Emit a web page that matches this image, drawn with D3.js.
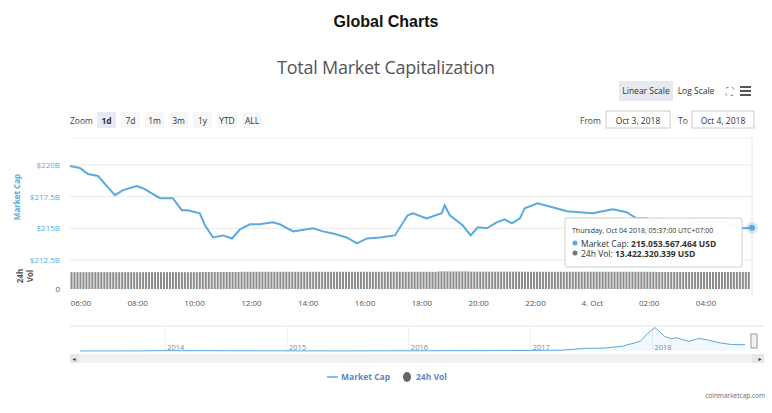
<!DOCTYPE html>
<html>
<head>
<meta charset="utf-8">
<script src="https://cdn.jsdelivr.net/npm/d3@7"></script>
<style>
  body { margin: 0; background: #fff; font-family: "Open Sans", "DejaVu Sans", sans-serif; }
  svg text { font-family: "Open Sans", "DejaVu Sans", sans-serif; }
</style>
</head>
<body>
<svg id="chart" width="772" height="413"></svg>
<script>
// Market cap readings: minutes after Oct 3 2018 05:37, value in billions USD
const capMinutes = [0,21,38,59,78,95,112,141,154,190,217,236,249,274,285,302,323,342,359,380,401,428,443,471,513,534,555,584,606,627,654,686,713,724,753,785,791,802,829,846,861,880,901,918,933,950,960,987,1019,1049,1076,1104,1146,1175,1196,1217,1239,1266,1323,1378,1420,1440];
const capValues = [219.92,219.76,219.29,219.13,218.33,217.62,218.02,218.33,218.17,217.38,217.38,216.43,216.43,216.19,215.24,214.28,214.44,214.2,214.92,215.32,215.32,215.47,215.32,214.76,215.0,214.76,214.6,214.28,213.81,214.2,214.28,214.44,216.03,216.19,215.79,216.19,216.82,216.03,215.24,214.44,215.08,215.0,215.47,215.71,215.39,215.79,216.59,216.98,216.67,216.35,216.27,216.19,216.51,216.27,215.79,215.79,215.47,215.24,215.47,215.55,215.0,215.05];

// 24h volume (billions) read as steps: from minute -> value
const volStepStart = [0,265,355,770,840,960,1230];
const volStepValue = [13.0,13.15,13.3,13.6,13.4,13.3,13.15];

// y ticks and x ticks
const capTicks = [212.5, 215, 217.5, 220];
const capTickLabels = ["$212.5B", "$215B", "$217.5B", "$220B"];
const timeTicks = ["06:00","08:00","10:00","12:00","14:00","16:00","18:00","20:00","22:00","4. Oct","02:00","04:00"];

// navigator: whole-history market cap (year, billions)
const navYears = [2013.3,2013.8,2014.0,2014.5,2015.0,2015.5,2016.0,2016.5,2017.0,2017.25,2017.45,2017.6,2017.75,2017.9,2017.96,2018.02,2018.1,2018.15,2018.2,2018.3,2018.38,2018.45,2018.55,2018.65,2018.76];
const navCaps = [1.5,4,12,8,5,4,7,10,18,28,90,100,160,330,600,800,500,420,450,330,430,380,280,220,215];
const navYearLabels = [2014,2015,2016,2017,2018];

const zoomButtons = ["1d","7d","1m","3m","1y","YTD","ALL"];

const svg = d3.select("#chart");
const blue = "#5aa9df";
const t0 = new Date(2018, 9, 3, 5, 37);
const toDate = m => new Date(t0.getTime() + m * 60000);

// headings
svg.append("text").attr("x", 386).attr("y", 27).attr("text-anchor", "middle")
  .attr("font-size", 16).attr("font-weight", "bold").attr("fill", "#111")
  .style("font-family", "'Liberation Sans', Arial, sans-serif").text("Global Charts");
svg.append("text").attr("x", 386).attr("y", 74).attr("text-anchor", "middle")
  .attr("font-size", 18).attr("fill", "#555").attr("textLength", 218)
  .text("Total Market Capitalization");

// scale buttons
svg.append("rect").attr("x", 619).attr("y", 81).attr("width", 54).attr("height", 20).attr("fill", "#e6e9ee");
svg.append("text").attr("x", 646).attr("y", 94).attr("text-anchor", "middle").attr("font-size", 8.5).attr("fill", "#333").text("Linear Scale");
svg.append("text").attr("x", 696).attr("y", 94).attr("text-anchor", "middle").attr("font-size", 8.5).attr("fill", "#333").text("Log Scale");
svg.append("text").attr("x", 729).attr("y", 95).attr("text-anchor", "middle").attr("font-size", 10).attr("fill", "#777").text("⛶");
[86, 90, 94].forEach(y => svg.append("rect").attr("x", 740).attr("y", y).attr("width", 11).attr("height", 2).attr("fill", "#555"));

// zoom row
svg.append("text").attr("x", 70).attr("y", 124).attr("font-size", 8.5).attr("fill", "#444").text("Zoom");
let bx = 97;
zoomButtons.forEach((b, i) => {
  const w = b.length > 2 ? 20 : 19;
  svg.append("rect").attr("x", bx).attr("y", 112).attr("width", w).attr("height", 16)
    .attr("fill", i === 0 ? "#e6ebf5" : "#f7f7f7");
  svg.append("text").attr("x", bx + w / 2).attr("y", 123.5).attr("text-anchor", "middle")
    .attr("font-size", 8.5).attr("font-weight", i === 0 ? "bold" : "normal").attr("fill", "#333").text(b);
  bx += w + 5;
});
svg.append("text").attr("x", 580).attr("y", 124).attr("font-size", 8.5).attr("fill", "#444").text("From");
svg.append("rect").attr("x", 606).attr("y", 111).attr("width", 64).attr("height", 17).attr("fill", "#fff").attr("stroke", "#ccc");
svg.append("text").attr("x", 638).attr("y", 123.5).attr("text-anchor", "middle").attr("font-size", 8.5).attr("fill", "#333").text("Oct 3, 2018");
svg.append("text").attr("x", 678).attr("y", 124).attr("font-size", 8.5).attr("fill", "#444").text("To");
svg.append("rect").attr("x", 692).attr("y", 111).attr("width", 62).attr("height", 17).attr("fill", "#fff").attr("stroke", "#ccc");
svg.append("text").attr("x", 723).attr("y", 123.5).attr("text-anchor", "middle").attr("font-size", 8.5).attr("fill", "#333").text("Oct 4, 2018");

// main scales
const x = d3.scaleTime().domain([toDate(0), toDate(1440)]).range([70, 752]);
const y = d3.scaleLinear().domain([212.5, 220]).range([260, 165]);
const yVol = d3.scaleLinear().domain([0, 17]).range([289, 267]);

svg.append("line").attr("x1", 70).attr("x2", 752).attr("y1", 138).attr("y2", 138).attr("stroke", "#eee");
svg.append("line").attr("x1", 752).attr("x2", 752).attr("y1", 138).attr("y2", 297).attr("stroke", "#e6e6e6");

// grid + y labels
capTicks.forEach((v, i) => {
  svg.append("line").attr("x1", 70).attr("x2", 752).attr("y1", y(v)).attr("y2", y(v)).attr("stroke", "#e9e9e9");
  svg.append("text").attr("x", 60).attr("y", y(v) + 3).attr("text-anchor", "end")
    .attr("font-size", 8).attr("fill", blue).text(capTickLabels[i]);
});
svg.append("text").attr("transform", "translate(20,197) rotate(-90)").attr("text-anchor", "middle")
  .attr("font-size", 8).attr("font-weight", "bold").attr("fill", blue).text("Market Cap");
svg.append("text").attr("transform", "translate(23,276) rotate(-90)").attr("text-anchor", "middle")
  .attr("font-size", 8).attr("font-weight", "bold").attr("fill", "#555").text("24h");
svg.append("text").attr("transform", "translate(33,276) rotate(-90)").attr("text-anchor", "middle")
  .attr("font-size", 8).attr("font-weight", "bold").attr("fill", "#555").text("Vol");
svg.append("text").attr("x", 60).attr("y", 292).attr("text-anchor", "end").attr("font-size", 8).attr("fill", "#555").text("0");

// volume bars every ~6 minutes, step values
const volBars = d3.range(0, 1436, 6.3).map(m => {
  const idx = d3.bisectRight(volStepStart, m) - 1;
  return { m, v: volStepValue[idx] };
});
svg.append("g").selectAll("rect").data(volBars).join("rect")
  .attr("x", d => x(toDate(d.m)) + 0.5).attr("width", 2)
  .attr("y", d => yVol(d.v)).attr("height", d => yVol(0) - yVol(d.v))
  .attr("fill", "#8c8c8c");

// cap line
const capData = capMinutes.map((m, i) => ({ t: toDate(m), v: capValues[i] }));
svg.append("path").datum(capData)
  .attr("d", d3.line().x(d => x(d.t)).y(d => y(d.v)).curve(d3.curveLinear))
  .attr("fill", "none").attr("stroke", blue).attr("stroke-width", 2);

// x axis labels
const tickDates = d3.range(12).map(i => new Date(2018, 9, 3, 6 + i * 2));
tickDates.forEach((d, i) => {
  svg.append("text").attr("x", x(d)).attr("y", 306).attr("text-anchor", "middle")
    .attr("font-size", 8).attr("fill", "#555").text(timeTicks[i]);
});

// hover marker and tooltip
const last = capData[capData.length - 1];
svg.append("circle").attr("cx", x(last.t)).attr("cy", y(last.v)).attr("r", 6).attr("fill", blue).attr("opacity", 0.25);
svg.append("circle").attr("cx", x(last.t)).attr("cy", y(last.v)).attr("r", 3).attr("fill", blue);
const tip = svg.append("g").attr("transform", "translate(565,218)");
tip.append("rect").attr("width", 177).attr("height", 49).attr("fill", "#fff").attr("fill-opacity", 0.95)
  .attr("stroke", "#cfcfcf").attr("rx", 2);
tip.append("text").attr("x", 7).attr("y", 15).attr("font-size", 7).attr("fill", "#333")
  .text("Thursday, Oct 04 2018, 05:37:00 UTC+07:00");
tip.append("circle").attr("cx", 10).attr("cy", 25).attr("r", 2.5).attr("fill", blue);
tip.append("text").attr("x", 16).attr("y", 28.5).attr("font-size", 8.5).attr("fill", "#333")
  .html('Market Cap: <tspan font-weight="bold">215.053.567.464 USD</tspan>');
tip.append("circle").attr("cx", 10).attr("cy", 35).attr("r", 2.5).attr("fill", "#777");
tip.append("text").attr("x", 16).attr("y", 38.5).attr("font-size", 8.5).attr("fill", "#333")
  .html('24h Vol: <tspan font-weight="bold">13.422.320.339 USD</tspan>');

// navigator
const nx = d3.scaleLinear().domain([2013.3, 2018.76]).range([80, 745]);
const ny = d3.scaleLinear().domain([0, 820]).range([351, 327]);
svg.append("line").attr("x1", 70).attr("x2", 764).attr("y1", 326).attr("y2", 326).attr("stroke", "#e3e3e3");
navYearLabels.forEach(yr => {
  svg.append("line").attr("x1", nx(yr)).attr("x2", nx(yr)).attr("y1", 326).attr("y2", 352).attr("stroke", "#eee");
  svg.append("text").attr("x", nx(yr) + 2).attr("y", 350).attr("font-size", 7.5).attr("fill", "#888").text(yr);
});
const navData = navYears.map((yr, i) => ({ yr, v: navCaps[i] }));
svg.append("path").datum(navData)
  .attr("d", d3.area().x(d => nx(d.yr)).y0(ny(0)).y1(d => ny(d.v)))
  .attr("fill", blue).attr("fill-opacity", 0.08);
svg.append("path").datum(navData)
  .attr("d", d3.line().x(d => nx(d.yr)).y(d => ny(d.v)))
  .attr("fill", "none").attr("stroke", blue).attr("stroke-width", 1);
svg.append("rect").attr("x", 751).attr("y", 334).attr("width", 6).attr("height", 14).attr("fill", "#f2f2f2").attr("stroke", "#999");
// scrollbar
svg.append("rect").attr("x", 70).attr("y", 354).attr("width", 694).attr("height", 9).attr("fill", "#f2f2f2");
svg.append("rect").attr("x", 70).attr("y", 354).attr("width", 9).attr("height", 9).attr("fill", "#e6e6e6");
svg.append("rect").attr("x", 752).attr("y", 354).attr("width", 12).attr("height", 9).attr("fill", "#e6e6e6");
svg.append("text").attr("x", 74).attr("y", 361).attr("text-anchor", "middle").attr("font-size", 6).attr("fill", "#333").text("◂");
svg.append("text").attr("x", 760).attr("y", 361).attr("text-anchor", "middle").attr("font-size", 6).attr("fill", "#333").text("▸");

// legend
svg.append("line").attr("x1", 327).attr("x2", 338).attr("y1", 377).attr("y2", 377).attr("stroke", blue).attr("stroke-width", 1.5);
svg.append("text").attr("x", 341).attr("y", 380).attr("font-size", 8.5).attr("font-weight", "bold").attr("fill", "#5b88c0").text("Market Cap");
svg.append("ellipse").attr("cx", 407).attr("cy", 377).attr("rx", 4).attr("ry", 5).attr("fill", "#666");
svg.append("text").attr("x", 416).attr("y", 380).attr("font-size", 8.5).attr("font-weight", "bold").attr("fill", "#5b88c0").text("24h Vol");
svg.append("text").attr("x", 765).attr("y", 398).attr("text-anchor", "end").attr("font-size", 6.5).attr("fill", "#666").text("coinmarketcap.com");
</script>
</body>
</html>
